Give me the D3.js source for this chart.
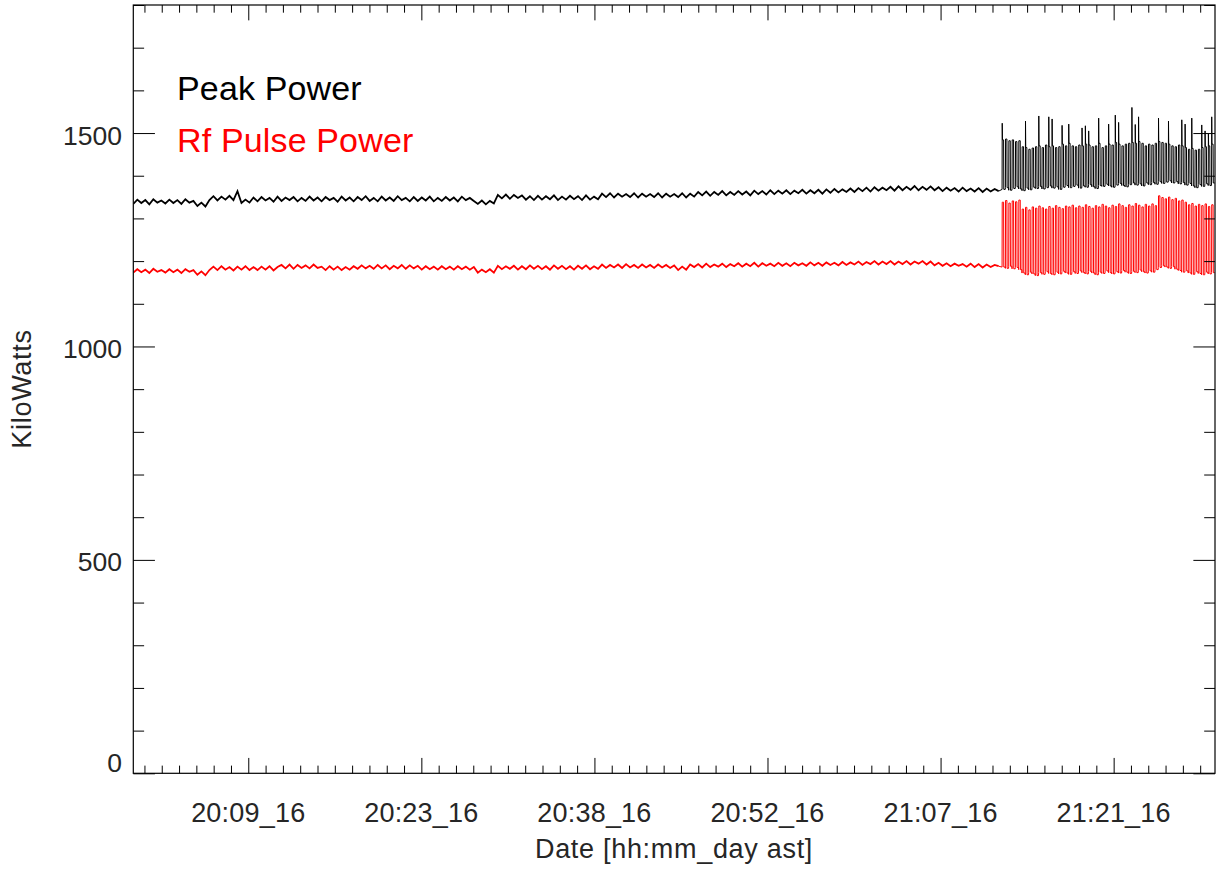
<!DOCTYPE html>
<html><head><meta charset="utf-8">
<script src="https://cdn.jsdelivr.net/npm/d3@7"></script>
<style>
body{margin:0;background:#fff}
text{font-family:"Liberation Sans",Arial,Helvetica,sans-serif}
</style>
</head><body>
<svg id="c" width="1217" height="877"></svg>
<script>
// ---------- DATA ----------
const baseStep = 20; // seconds between baseline samples
const peakBase = [
1334,1344,1336,1343,1333,1345,1337,1342,1335,1344,
1336,1343,1334,1345,1337,1341,1329,1337,1328,1343,
1352,1342,1351,1344,1353,1343,1364,1336,1344,1337,
1349,1340,1350,1342,1348,1339,1351,1341,1349,1343,
1350,1340,1348,1341,1351,1342,1349,1340,1350,1343,
1348,1339,1351,1342,1349,1340,1350,1343,1352,1341,
1348,1340,1351,1342,1349,1341,1352,1343,1348,1340,
1350,1341,1349,1342,1351,1340,1348,1341,1350,1342,
1349,1340,1351,1343,1348,1341,1334,1342,1333,1341,
1335,1355,1347,1356,1346,1355,1348,1354,1344,1352,
1343,1353,1344,1352,1345,1354,1343,1351,1344,1353,
1345,1352,1343,1354,1344,1351,1345,1358,1350,1359,
1349,1358,1351,1357,1350,1359,1349,1358,1351,1357,
1350,1359,1349,1358,1351,1357,1350,1359,1349,1358,
1351,1362,1354,1363,1353,1362,1355,1364,1354,1362,
1355,1364,1356,1363,1354,1365,1357,1364,1356,1366,
1357,1365,1358,1366,1357,1365,1359,1367,1358,1366,
1359,1367,1358,1368,1360,1369,1361,1368,1362,1370,
1362,1371,1364,1372,1363,1373,1365,1372,1366,1374,
1365,1375,1366,1374,1367,1376,1366,1374,1367,1375,
1366,1373,1364,1372,1365,1371,1363,1372,1364,1370,
1363,1371,1362,1370,1363,1369,1364];
const rfBase = [
1173,1181,1174,1180,1172,1182,1175,1179,1173,1181,
1174,1180,1172,1181,1175,1179,1168,1176,1167,1179,
1187,1179,1188,1180,1186,1178,1187,1180,1188,1179,
1186,1179,1187,1180,1188,1178,1186,1191,1183,1192,
1182,1191,1184,1190,1183,1192,1184,1187,1179,1188,
1180,1187,1179,1186,1180,1188,1182,1190,1183,1189,
1182,1191,1183,1190,1181,1189,1183,1191,1182,1190,
1183,1189,1180,1188,1181,1187,1180,1188,1181,1187,
1180,1188,1181,1187,1180,1186,1173,1180,1174,1181,
1173,1189,1181,1188,1182,1189,1180,1188,1181,1190,
1182,1189,1181,1188,1180,1190,1182,1189,1181,1188,
1180,1189,1182,1190,1181,1188,1182,1192,1184,1191,
1185,1192,1184,1193,1185,1191,1184,1192,1185,1191,
1184,1192,1185,1191,1184,1190,1179,1187,1180,1192,
1186,1193,1185,1194,1186,1192,1187,1194,1186,1193,
1188,1195,1187,1194,1188,1196,1187,1195,1189,1194,
1188,1196,1189,1195,1188,1196,1190,1195,1189,1197,
1190,1196,1189,1197,1191,1196,1190,1198,1191,1197,
1192,1199,1191,1198,1193,1200,1192,1199,1193,1200,
1192,1199,1193,1200,1192,1199,1194,1200,1192,1199,
1190,1196,1189,1195,1188,1194,1189,1193,1187,1194,
1186,1193,1185,1192,1186,1191,1188];

// pulsed section: one entry per cycle
const oscStart = 4337;   // seconds
const oscPeriod = 16.6;  // seconds
const peakHigh = [
1484,1486,1482,1484,1480,1482,1468,1466,1462,1465,
1468,1470,1466,1472,1468,1470,1466,1468,1474,1470,
1476,1470,1468,1472,1470,1474,1472,1468,1470,1476,
1466,1470,1474,1472,1478,1474,1470,1474,1476,1478,
1476,1480,1476,1470,1474,1472,1476,1480,1478,1476,
1474,1470,1468,1472,1470,1466,1462,1464,1460,1462,
1466,1468,1470,1474];
const peakSpike = [
1523,1486,1482,1484,1480,1482,1468,1528,1462,1465,
1468,1540,1466,1472,1538,1533,1466,1468,1518,1470,
1521,1470,1468,1472,1512,1517,1505,1468,1470,1535,
1466,1470,1521,1472,1542,1525,1470,1474,1476,1560,
1520,1538,1476,1470,1474,1472,1476,1535,1478,1476,
1528,1470,1468,1472,1531,1521,1462,1535,1460,1462,
1519,1505,1498,1538];
const peakLow = [
1368,1372,1366,1370,1374,1369,1365,1371,1367,1373,
1370,1375,1369,1372,1376,1371,1374,1368,1373,1377,
1372,1375,1378,1371,1376,1373,1379,1374,1370,1377,
1375,1380,1376,1373,1378,1382,1377,1374,1379,1383,
1378,1381,1376,1383,1379,1384,1380,1386,1382,1385,
1388,1383,1386,1381,1384,1378,1382,1376,1372,1379,
1375,1381,1377,1383];
const rfHigh = [
1338,1342,1336,1341,1339,1343,1322,1326,1320,1327,
1324,1329,1325,1322,1328,1324,1330,1326,1323,1329,
1327,1331,1325,1329,1326,1332,1328,1324,1330,1327,
1333,1329,1325,1331,1328,1334,1330,1326,1332,1329,
1335,1331,1327,1333,1329,1334,1330,1353,1349,1346,
1350,1344,1347,1341,1343,1338,1332,1335,1329,1333,
1330,1334,1328,1332];
const rfLow = [
1186,1183,1188,1182,1185,1180,1172,1168,1174,1170,
1166,1173,1169,1175,1171,1168,1174,1170,1176,1172,
1169,1175,1171,1177,1173,1170,1176,1172,1168,1174,
1171,1177,1173,1170,1175,1172,1178,1174,1171,1176,
1173,1179,1175,1172,1177,1174,1180,1185,1189,1186,
1183,1187,1181,1178,1174,1177,1172,1169,1175,1171,
1168,1174,1170,1173];

const xDomain = [0, 5400];          // seconds from 20:00:00
const xTickValues = [574, 1438, 2302, 3166, 4030, 4894];
const xTickLabels = ["20:09_16","20:23_16","20:38_16","20:52_16","21:07_16","21:21_16"];
const xMinorStep = 86.4;
const yDomain = [0, 1800];
const yTickValues = [0, 500, 1000, 1500];
const yTickLabels = ["0","500","1000","1500"];
const yMinorStep = 100;
const seriesNames = ["Peak Power", "Rf Pulse Power"];
const seriesColors = ["#000000", "#ff0000"];

// ---------- CHART ----------
const L = 133.3, R = 1215, T = 5, B = 773.3;
const svg = d3.select("#c");
const x = d3.scaleLinear().domain(xDomain).range([L, R]);
const y = d3.scaleLinear().domain(yDomain).range([B, T]);

function basePts(base) { return base.map((v, i) => [i * baseStep, v]); }
function oscPts(base, hi, spike, lo) {
  const P = oscPeriod;
  const pts = [[(base.length - 1) * baseStep, base[base.length - 1]]];
  hi.forEach((h, i) => {
    const t = oscStart + i * P;
    pts.push([t, lo[i]]);
    pts.push([t + 0.05 * P, spike[i]]);
    pts.push([t + 0.12 * P, h]);
    pts.push([t + 0.46 * P, h]);
    pts.push([t + 0.52 * P, lo[i]]);
    pts.push([t + 0.95 * P, lo[i]]);
  });
  return pts;
}

svg.append("clipPath").attr("id", "clip").append("rect")
  .attr("x", L).attr("y", T).attr("width", R - L).attr("height", B - T);

const line = d3.line().x(d => x(d[0])).y(d => y(d[1]));
const plot = svg.append("g").attr("clip-path", "url(#clip)");
const series = [
  {base: peakBase, hi: peakHigh, spike: peakSpike, lo: peakLow, color: seriesColors[0]},
  {base: rfBase, hi: rfHigh, spike: rfHigh, lo: rfLow, color: seriesColors[1]}
];
series.forEach(s => {
  plot.append("path").datum(basePts(s.base)).attr("d", line)
    .attr("fill", "none").attr("stroke", s.color).attr("stroke-width", 1.8)
    .attr("stroke-linejoin", "miter");
  plot.append("path").datum(oscPts(s.base, s.hi, s.spike, s.lo)).attr("d", line)
    .attr("fill", "none").attr("stroke", s.color).attr("stroke-width", 1.0);
});

// minor tick values
const xMinor = [];
for (let v = xTickValues[0] - 6 * xMinorStep; v <= xDomain[1]; v += xMinorStep) {
  if (v >= xDomain[0] && !xTickValues.some(m => Math.abs(m - v) < 1)) xMinor.push(v);
}
const yMinor = d3.range(yDomain[0], yDomain[1] + 1, yMinorStep).filter(v => !yTickValues.includes(v));

const majX = 0.02 * (B - T), majY = 0.02 * (R - L);
function styleAxis(g) {
  g.select(".domain").remove();
  g.selectAll("line").attr("stroke", "#000").attr("stroke-width", 1);
  g.selectAll("text").remove();
}
// bottom (ticks inward)
svg.append("g").attr("transform", `translate(0,${B})`)
  .call(d3.axisTop(x).tickValues(xTickValues).tickSize(majX)).call(styleAxis);
svg.append("g").attr("transform", `translate(0,${B})`)
  .call(d3.axisTop(x).tickValues(xMinor).tickSize(majX / 2)).call(styleAxis);
// top
svg.append("g").attr("transform", `translate(0,${T})`)
  .call(d3.axisBottom(x).tickValues(xTickValues).tickSize(majX)).call(styleAxis);
svg.append("g").attr("transform", `translate(0,${T})`)
  .call(d3.axisBottom(x).tickValues(xMinor).tickSize(majX / 2)).call(styleAxis);
// left
svg.append("g").attr("transform", `translate(${L},0)`)
  .call(d3.axisRight(y).tickValues(yTickValues).tickSize(majY)).call(styleAxis);
svg.append("g").attr("transform", `translate(${L},0)`)
  .call(d3.axisRight(y).tickValues(yMinor).tickSize(majY / 2)).call(styleAxis);
// right
svg.append("g").attr("transform", `translate(${R},0)`)
  .call(d3.axisLeft(y).tickValues(yTickValues).tickSize(majY)).call(styleAxis);
svg.append("g").attr("transform", `translate(${R},0)`)
  .call(d3.axisLeft(y).tickValues(yMinor).tickSize(majY / 2)).call(styleAxis);

// frame
svg.append("rect").attr("x", L).attr("y", T).attr("width", R - L).attr("height", B - T)
  .attr("fill", "none").attr("stroke", "#000").attr("stroke-width", 1.2);

const labCol = "#262626";
// x tick labels
svg.append("g").selectAll("text").data(xTickValues).join("text")
  .attr("x", d => x(d)).attr("y", 821.5).attr("text-anchor", "middle")
  .attr("font-size", 27).attr("letter-spacing", 0.2).attr("fill", labCol)
  .text((d, i) => xTickLabels[i]);
// y tick labels
svg.append("g").selectAll("text").data(yTickValues).join("text")
  .attr("x", 122).attr("y", d => y(d) + (d === 0 ? -8 : 4.5))
  .attr("dominant-baseline", "middle").attr("text-anchor", "end")
  .attr("font-size", 26.5).attr("fill", labCol)
  .text((d, i) => yTickLabels[i]);

// axis titles
svg.append("text").attr("x", 674).attr("y", 858).attr("text-anchor", "middle")
  .attr("font-size", 27).attr("letter-spacing", 0.7).attr("fill", labCol).text("Date [hh:mm_day ast]");
svg.append("text").attr("transform", "translate(31,389) rotate(-90)")
  .attr("text-anchor", "middle").attr("font-size", 27).attr("letter-spacing", 0.7)
  .attr("fill", labCol).text("KiloWatts");

// legend
svg.append("g").selectAll("text").data(seriesNames).join("text")
  .attr("x", 177).attr("y", (d, i) => 100 + i * 52)
  .attr("font-size", 34).attr("letter-spacing", 0.15).attr("fill", (d, i) => seriesColors[i])
  .text(d => d);
</script>
</body></html>
